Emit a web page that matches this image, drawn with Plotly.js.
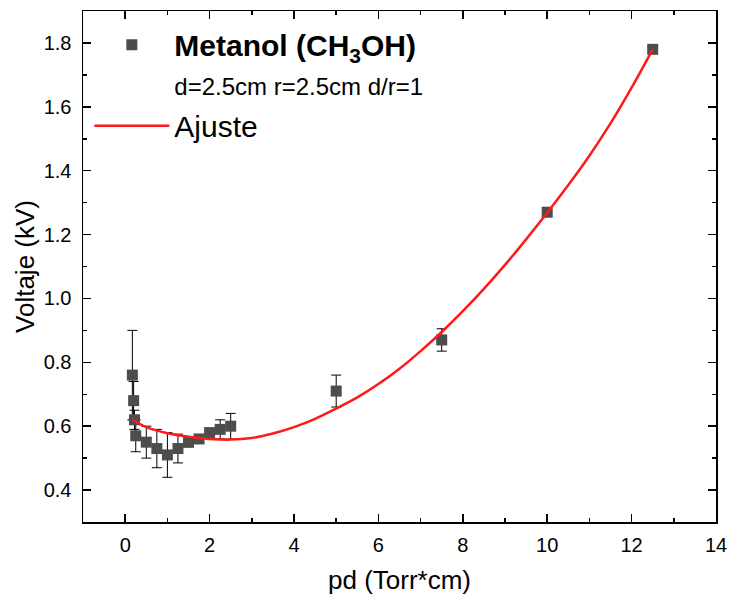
<!DOCTYPE html>
<html>
<head>
<meta charset="utf-8">
<script src="https://cdn.plot.ly/plotly-3.0.1.min.js"></script>
<style>
  html, body { margin: 0; padding: 0; background: #fff; }
  #chart { width: 730px; height: 603px; }
</style>
</head>
<body>
<div id="chart"></div>
<script>
// Measured data: pd (Torr*cm) vs breakdown voltage (kV)
const pd = [0.17, 0.2, 0.22, 0.25, 0.5, 0.75, 1.0, 1.25, 1.5, 1.75, 2.0, 2.25, 2.5, 5, 7.5, 10, 12.5];
const voltage = [0.76, 0.68, 0.62, 0.57, 0.55, 0.53, 0.51, 0.53, 0.55, 0.56, 0.58, 0.59, 0.60, 0.71, 0.87, 1.27, 1.78];
const voltageErr = [0.14, 0.06, 0.03, 0.05, 0.05, 0.06, 0.07, 0.045, 0.015, 0.012, 0.012, 0.03, 0.04, 0.05, 0.035, 0.01, 0.005];

// Fit curve ("Ajuste")
const fitX = [0.17, 0.5, 1.0, 1.5, 2.0, 2.5, 3.0, 3.5, 4.0, 4.5, 5.0, 5.5, 6.0, 6.5, 7.0, 7.5, 8.0, 8.5, 9.0, 9.5, 10.0, 10.5, 11.0, 11.5, 12.0, 12.5];
const fitY = [0.62, 0.597, 0.578, 0.567, 0.560, 0.558, 0.563, 0.577, 0.597, 0.623, 0.655, 0.69, 0.732, 0.78, 0.835, 0.895, 0.96, 1.03, 1.105, 1.185, 1.268, 1.355, 1.447, 1.548, 1.66, 1.78];

const seriesName = '<b>Metanol (CH<sub>3</sub>OH)</b><br><span style="font-size:24px">d=2.5cm r=2.5cm d/r=1</span>';
const fitName = 'Ajuste';

const xTicks = [0, 2, 4, 6, 8, 10, 12, 14];
const yTicks = [0.4, 0.6, 0.8, 1.0, 1.2, 1.4, 1.6, 1.8];

const data = [
  {
    x: pd, y: voltage,
    type: 'scatter', mode: 'markers',
    name: seriesName,
    legendrank: 1,
    marker: { symbol: 'square', size: 11, color: '#4d4d4d', line: { width: 0 } },
    error_y: { type: 'data', array: voltageErr, visible: true, color: '#000', thickness: 1, width: 5 }
  },
  {
    x: fitX, y: fitY,
    type: 'scatter', mode: 'lines',
    name: fitName,
    legendrank: 2,
    line: { color: 'rgb(255,25,25)', width: 2.5, shape: 'spline', smoothing: 1 }
  }
];

const axisCommon = {
  showgrid: false, zeroline: false,
  showline: true, linecolor: '#000', linewidth: 1.5, mirror: 'allticks',
  ticks: 'inside', ticklen: 8, tickwidth: 1.5, tickcolor: '#000',
  tickfont: { family: 'Liberation Sans, Arial, sans-serif', size: 20, color: '#000' },
};

const layout = {
  width: 730, height: 603,
  margin: { l: 83, r: 14, t: 11, b: 81 },
  paper_bgcolor: '#fff', plot_bgcolor: '#fff',
  font: { family: 'Liberation Sans, Arial, sans-serif', color: '#000' },
  showlegend: true,
  legend: {
    x: 0.01, y: 0.985, xanchor: 'left', yanchor: 'top',
    bgcolor: 'rgba(0,0,0,0)', borderwidth: 0,
    font: { family: 'Liberation Sans, Arial, sans-serif', size: 30, color: '#000' },
    itemwidth: 75, valign: 'top', tracegroupgap: 0
  },
  xaxis: Object.assign({}, axisCommon, {
    range: [-1, 14],
    tickvals: xTicks, ticktext: xTicks.map(String),
    minor: { dtick: 1, tick0: 0, ticks: 'inside', ticklen: 4, tickwidth: 1.5, tickcolor: '#000' },
    title: { text: 'pd (Torr*cm)', font: { size: 26, family: 'Liberation Sans, Arial, sans-serif', color: '#000' }, standoff: 16 },
    ticklabelstandoff: 4
  }),
  yaxis: Object.assign({}, axisCommon, {
    range: [0.3, 1.9],
    tickvals: yTicks, ticktext: yTicks.map(v => v.toFixed(1)),
    minor: { dtick: 0.1, tick0: 0.3, ticks: 'inside', ticklen: 4, tickwidth: 1.5, tickcolor: '#000' },
    title: { text: 'Voltaje (kV)', font: { size: 26, family: 'Liberation Sans, Arial, sans-serif', color: '#000' }, standoff: 1 },
    ticklabelstandoff: 6
  })
};

Plotly.newPlot('chart', data, layout, { displayModeBar: false, staticPlot: true });
</script>
</body>
</html>
